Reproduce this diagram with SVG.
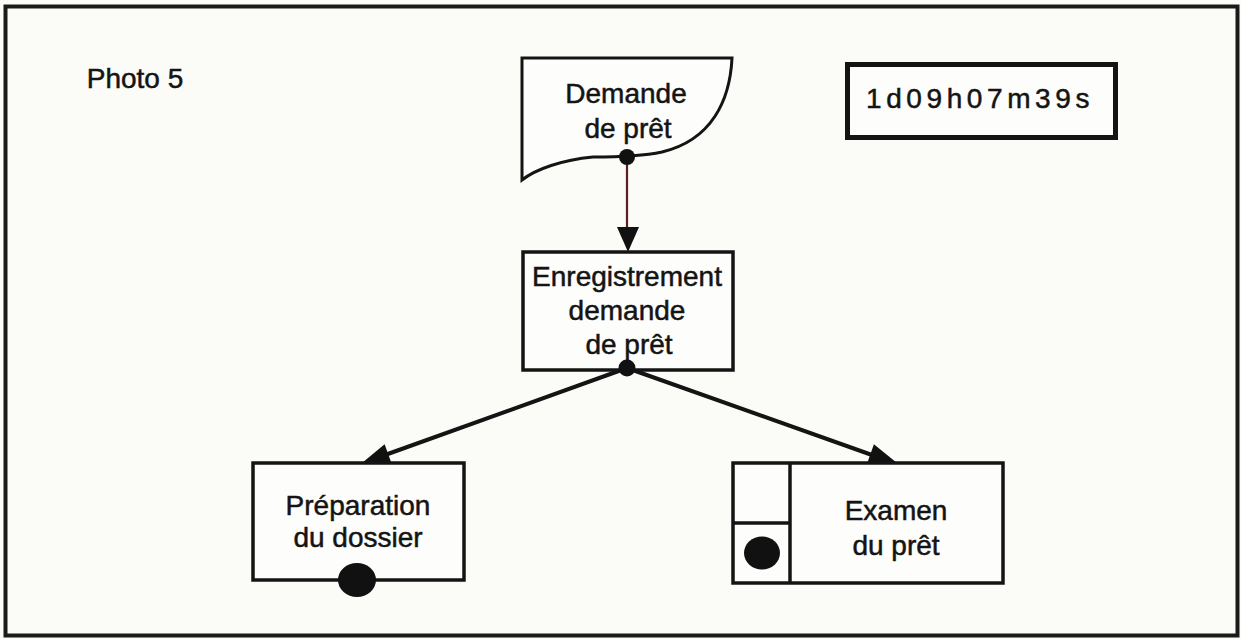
<svg xmlns="http://www.w3.org/2000/svg" width="1241" height="639" viewBox="0 0 1241 639">
  <style>
    .lbl { font-family: "Liberation Sans", Arial, sans-serif; font-size: 28px; fill: #141414; stroke: #141414; stroke-width: 0.5px; text-anchor: middle; }
    .box { fill: #fdfdfb; stroke: #141414; stroke-width: 3.5; }
    .dot { fill: #111; }
    .edge { stroke: #141414; stroke-width: 4; fill: none; }
    .head { fill: #111; }
  </style>
  <rect x="0" y="0" width="1241" height="639" fill="#fbfbf8"/>
  <rect x="5.5" y="6.5" width="1232" height="629" fill="none" stroke="#1a1a1a" stroke-width="4"/>

  <text class="lbl" x="135" y="88">Photo 5</text>

  <g id="timer">
    <rect x="847.5" y="64.5" width="268" height="73" fill="#fdfdfb" stroke="#141414" stroke-width="5"/>
    <text class="lbl" x="980" y="108" style="font-size:28px; letter-spacing:4.6px">1d09h07m39s</text>
  </g>

  <g id="connectors">
    <line x1="627" y1="157" x2="627" y2="232" stroke="#5a1f22" stroke-width="2.2"/>
    <polygon class="head" points="617,227 639,227 628,252"/>
    <line class="edge" x1="627" y1="368" x2="385" y2="455"/>
    <polygon class="head" points="362,463 384.6,444.2 391.4,463"/>
    <line class="edge" x1="627" y1="368" x2="872" y2="455"/>
    <polygon class="head" points="897,463 873.9,444.3 867.3,463"/>
  </g>

  <g id="demande">
    <path d="M522,58 H732 C730,100 712,140 662,152 C643,156 612,157 593,157 C562,160 536,169 522,180 Z" fill="#fdfdfb" stroke="#141414" stroke-width="3"/>
    <text class="lbl" x="626" y="103">Demande</text>
    <text class="lbl" x="628" y="138">de prêt</text>
    <circle class="dot" cx="627" cy="157" r="8"/>
  </g>

  <g id="enregistrement">
    <rect class="box" x="523" y="252" width="210" height="118"/>
    <text class="lbl" x="627" y="286">Enregistrement</text>
    <text class="lbl" x="627" y="320">demande</text>
    <text class="lbl" x="629" y="354">de prêt</text>
    <circle class="dot" cx="627" cy="368" r="8.5"/>
  </g>

  <g id="preparation">
    <rect class="box" x="253" y="463" width="211" height="117"/>
    <text class="lbl" x="358" y="515">Préparation</text>
    <text class="lbl" x="358" y="547">du dossier</text>
    <ellipse class="dot" cx="357" cy="580" rx="19" ry="17"/>
  </g>

  <g id="examen">
    <rect class="box" x="733" y="463" width="270" height="120"/>
    <line x1="790" y1="463" x2="790" y2="583" stroke="#141414" stroke-width="3.5"/>
    <line x1="733" y1="523" x2="790" y2="523" stroke="#141414" stroke-width="3.5"/>
    <ellipse class="dot" cx="762" cy="553" rx="18" ry="16.5"/>
    <text class="lbl" x="896" y="520">Examen</text>
    <text class="lbl" x="896" y="555">du prêt</text>
  </g>
</svg>
